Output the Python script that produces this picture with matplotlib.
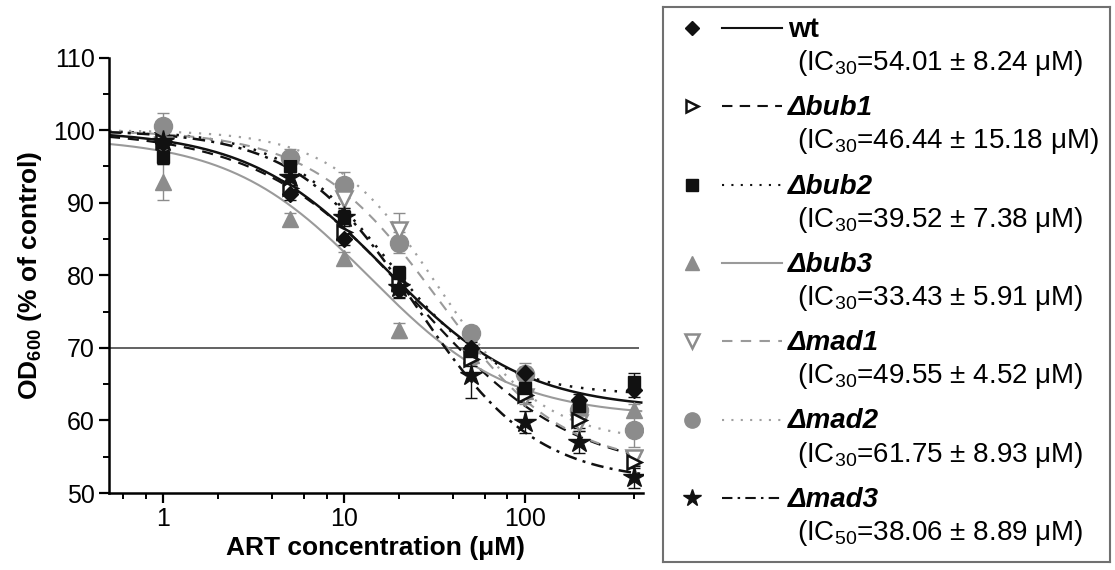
import numpy as np
import matplotlib
matplotlib.use("Agg")
import matplotlib.pyplot as plt
import matplotlib.ticker as ticker

plt.rcParams['font.family'] = ['Liberation Sans', 'DejaVu Sans']
plt.rcParams['mathtext.fontset'] = 'custom'
plt.rcParams['mathtext.rm'] = 'Liberation Sans'
plt.rcParams['mathtext.bf'] = 'Liberation Sans:bold'
plt.rcParams['mathtext.it'] = 'Liberation Sans:italic'

# ART concentration (uM)
conc = [1, 5, 10, 20, 50, 100, 200, 400]

names = ["wt", "Δbub1", "Δbub2", "Δbub3", "Δmad1", "Δmad2", "Δmad3"]
ic_text = ["(IC$_{30}$=54.01 ± 8.24 μM)",
           "(IC$_{30}$=46.44 ± 15.18 μM)",
           "(IC$_{30}$=39.52 ± 7.38 μM)",
           "(IC$_{30}$=33.43 ± 5.91 μM)",
           "(IC$_{30}$=49.55 ± 4.52 μM)",
           "(IC$_{30}$=61.75 ± 8.93 μM)",
           "(IC$_{50}$=38.06 ± 8.89 μM)"]

# OD600 (% of control)
wt   = [98.2, 91.2, 85.0, 78.0, 70.0, 66.5, 62.8, 64.2]
bub1 = [98.5, 92.0, 86.0, 79.0, 68.5, 63.5, 60.0, 54.3]
bub2 = [96.3, 95.0, 88.0, 80.3, 69.5, 64.5, 62.0, 65.3]
bub3 = [92.8, 87.8, 82.4, 72.4, 69.0, 64.0, 62.0, 61.5]
mad1 = [98.0, 95.0, 90.5, 86.2, 68.8, 63.2, 59.6, 54.8]
mad2 = [100.6, 96.2, 92.4, 84.5, 72.0, 66.4, 61.5, 58.7]
mad3 = [98.5, 93.5, 88.0, 78.4, 66.3, 59.8, 57.0, 52.2]

wt_err   = [1.0, 0.8, 0.8, 1.0, 0.8, 0.8, 0.8, 1.0]
bub1_err = [1.0, 0.8, 1.0, 1.0, 1.0, 1.0, 1.0, 0.8]
bub2_err = [1.0, 1.0, 1.2, 1.0, 0.8, 1.0, 1.0, 1.2]
bub3_err = [2.5, 0.8, 0.8, 1.0, 0.8, 0.8, 0.8, 0.8]
mad1_err = [1.0, 1.0, 1.2, 2.4, 1.0, 1.0, 1.0, 1.0]
mad2_err = [1.8, 1.2, 1.8, 1.5, 1.0, 1.5, 1.0, 2.3]
mad3_err = [1.0, 1.0, 1.0, 1.5, 3.2, 1.5, 1.5, 1.5]

# fitted dose-response parameters: top, bottom, midpoint, hill slope
fit_top = [100, 100, 100, 99, 100, 100, 100]
fit_bottom = [61.5, 52.5, 63.5, 60.5, 53.5, 57, 51.5]
fit_mid = [17.2, 25, 17.8, 13.8, 33, 33, 25]
fit_hill = [1.13, 1.0, 1.47, 1.12, 1.25, 1.5, 1.3]

series = [wt, bub1, bub2, bub3, mad1, mad2, mad3]
errs = [wt_err, bub1_err, bub2_err, bub3_err, mad1_err, mad2_err, mad3_err]

K = '#111111'
G = '#8c8c8c'
GL = '#9a9a9a'
markers = ['D', '>', 's', '^', 'v', 'o', '*']
msizes = [8, 10, 9, 11, 11, 13, 16]
mface = [K, 'white', K, G, 'white', G, K]
medge = [K, K, K, G, G, G, K]
lcolors = [K, K, K, GL, GL, '#a0a0a0', K]
lstyles = ['-', (0, (5, 3.5)), (0, (1, 3.5)), '-', (0, (5, 4)), (0, (1, 3.5)), (0, (5, 2.5, 1.2, 2.5))]
lwidths = [1.8, 1.6, 1.8, 1.5, 1.5, 1.6, 1.8]

fig = plt.figure(figsize=(11.15, 5.70), dpi=100)
ax = fig.add_axes([109 / 1115, 1 - 493 / 570, 534 / 1115, 435.5 / 570])

xs = np.logspace(np.log10(0.5), np.log10(440), 300)
for i in range(7):
    yc = fit_bottom[i] + (fit_top[i] - fit_bottom[i]) / (1 + (xs / fit_mid[i]) ** fit_hill[i])
    ax.plot(xs, yc, color=lcolors[i], ls=lstyles[i], lw=lwidths[i], zorder=2)

ax.hlines(70, 0.5, 425, color='#555555', lw=1.3, zorder=1)

order = [5, 4, 3, 1, 2, 0, 6]
for i in order:
    ax.errorbar(conc, series[i], yerr=errs[i], fmt='none', ecolor=medge[i],
                elinewidth=1.0, capsize=4, capthick=1.0, zorder=3)
    ax.plot(conc, series[i], ls='none', marker=markers[i], ms=msizes[i],
            mfc=mface[i], mec=medge[i], mew=1.8 if mface[i] == 'white' else 1.0, zorder=4)

ax.set_xscale('log')
ax.set_xlim(0.5, 450)
ax.set_ylim(50, 110)
ax.set_yticks(np.arange(50, 111, 10))
ax.yaxis.set_minor_locator(ticker.MultipleLocator(5))
ax.xaxis.set_major_locator(ticker.FixedLocator([1, 10, 100]))
ax.xaxis.set_major_formatter(ticker.FixedFormatter(['1', '10', '100']))
ax.xaxis.set_minor_locator(ticker.LogLocator(base=10, subs=(2, 4, 6, 8)))
ax.xaxis.set_minor_formatter(ticker.NullFormatter())

for s in ['top', 'right']:
    ax.spines[s].set_visible(False)
for s in ['left', 'bottom']:
    ax.spines[s].set_linewidth(1.8)
ax.tick_params(which='major', direction='out', length=7, width=1.6, labelsize=18, pad=3)
ax.tick_params(which='minor', direction='out', length=4, width=1.4)

ax.set_xlabel('ART concentration (μM)', fontsize=19, fontweight='bold', labelpad=4)
ax.set_ylabel('OD$_\\mathbf{600}$ (% of control)', fontsize=19, fontweight='bold', labelpad=7)

# legend box drawn by hand
lax = fig.add_axes([663 / 1115, 1 - 562 / 570, 447 / 1115, 555 / 570])
lax.set_xlim(0, 447)
lax.set_ylim(555, 0)
lax.set_xticks([])
lax.set_yticks([])
for s in lax.spines.values():
    s.set_color('#707070')
    s.set_linewidth(1.5)

leg_ms = [7, 8, 8, 10, 10, 11, 13]
for i in range(7):
    y0 = 21 + 78.3 * i
    lax.plot([29], [y0], ls='none', marker=markers[i], ms=leg_ms[i], mfc=mface[i],
             mec=medge[i], mew=1.8 if mface[i] == 'white' else 1.0)
    lax.plot([59, 119], [y0, y0], color=lcolors[i], ls=lstyles[i], lw=1.5)
    lax.text(125, y0 + 9, names[i], fontsize=20, fontweight='bold',
             fontstyle='normal' if i == 0 else 'italic', va='baseline', ha='left')
    lax.text(134, y0 + 42, ic_text[i], fontsize=20, va='baseline', ha='left')

fig.savefig('out.png', dpi=100)
